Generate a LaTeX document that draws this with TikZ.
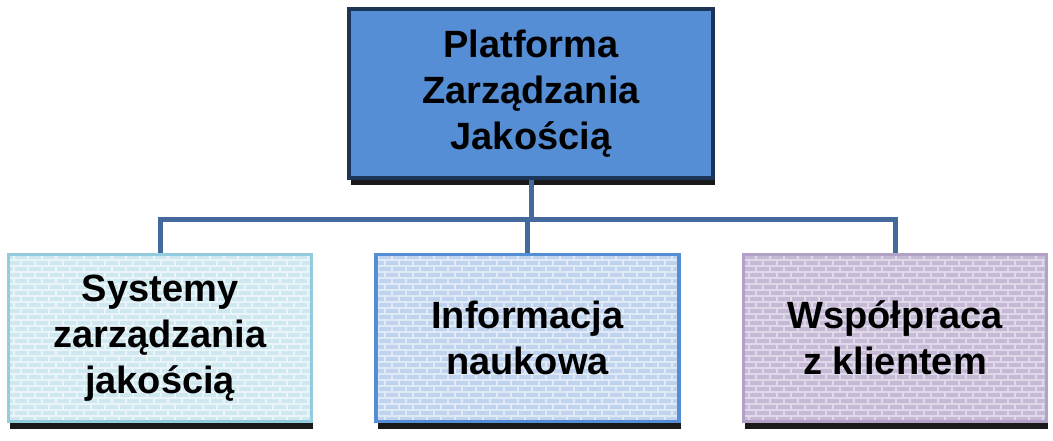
\documentclass[tikz,border=0pt]{standalone}
\usepackage{fontspec}
\setmainfont{Liberation Sans}
\usetikzlibrary{shadows, patterns}

% small brick tiling for the lower boxes
\pgfdeclarepatternformonly{smallbricks}{\pgfqpoint{-1pt}{-1pt}}{\pgfqpoint{15pt}{13pt}}{\pgfqpoint{14pt}{12pt}}{%
  \pgfsetlinewidth{1.2pt}
  \pgfpathmoveto{\pgfqpoint{0pt}{0pt}}\pgfpathlineto{\pgfqpoint{14pt}{0pt}}
  \pgfpathmoveto{\pgfqpoint{0pt}{6pt}}\pgfpathlineto{\pgfqpoint{14pt}{6pt}}
  \pgfpathmoveto{\pgfqpoint{0pt}{0pt}}\pgfpathlineto{\pgfqpoint{0pt}{6pt}}
  \pgfpathmoveto{\pgfqpoint{7pt}{6pt}}\pgfpathlineto{\pgfqpoint{7pt}{12pt}}
  \pgfusepath{stroke}}

\definecolor{rootfill}{HTML}{558ED5}
\definecolor{rootedge}{HTML}{1C3557}
\definecolor{linkblue}{HTML}{44699C}
\definecolor{cyanfill}{HTML}{CFE7EF}
\definecolor{cyanedge}{HTML}{93CDDD}
\definecolor{cyanbrick}{HTML}{EAF5F9}
\definecolor{bluefill}{HTML}{BFD3EE}
\definecolor{blueedge}{HTML}{558ED5}
\definecolor{bluebrick}{HTML}{E0E9F6}
\definecolor{lilacfill}{HTML}{C6B9D6}
\definecolor{lilacedge}{HTML}{B3A2C7}
\definecolor{lilacbrick}{HTML}{E0D9EA}

\tikzstyle{boxshadow} = [drop shadow={shadow xshift=1.5pt, shadow yshift=-7pt, opacity=0.9, fill=black}]
\tikzstyle{root} = [rectangle, minimum width=364pt, minimum height=169pt, align=center, draw=rootedge, line width=4.5pt, fill=rootfill, boxshadow, font=\fontsize{38}{46}\selectfont\bfseries]
\tikzstyle{branch} = [rectangle, minimum width=303pt, minimum height=167pt, align=center, line width=3.5pt, boxshadow, font=\fontsize{38}{46}\selectfont\bfseries]
\tikzstyle{cyanbox} = [branch, draw=cyanedge, preaction={fill=cyanfill}, preaction={pattern=smallbricks, pattern color=cyanbrick}]
\tikzstyle{bluebox} = [branch, draw=blueedge, preaction={fill=bluefill}, preaction={pattern=smallbricks, pattern color=bluebrick}]
\tikzstyle{lilacbox} = [branch, draw=lilacedge, preaction={fill=lilacfill}, preaction={pattern=smallbricks, pattern color=lilacbrick}]
\tikzstyle{link} = [draw=linkblue, line width=5pt]

\begin{document}
\begin{tikzpicture}[x=1pt, y=1pt, node distance=244.5pt]
\useasboundingbox (0,0) rectangle (1053,440);

% NODES
\node (platform) [root] at (531,346.5) {Platforma\\Zarządzania\\Jakością};
\node (info) [bluebox, below of=platform, xshift=-3.5pt] {Informacja\\naukowa};
\node (systems) [cyanbox, left of=info, node distance=367.5pt] {Systemy\\zarządzania\\jakością};
\node (client) [lilacbox, right of=info, node distance=367.5pt] {Współpraca\\z klientem};

% LINES
\coordinate (junction) at (531,221);
\draw [link] (platform.south) -- (junction);
\draw [link] (systems.north) |- (junction) -| (client.north);
\draw [link] (junction -| info.north) -- (info.north);
\end{tikzpicture}
\end{document}
